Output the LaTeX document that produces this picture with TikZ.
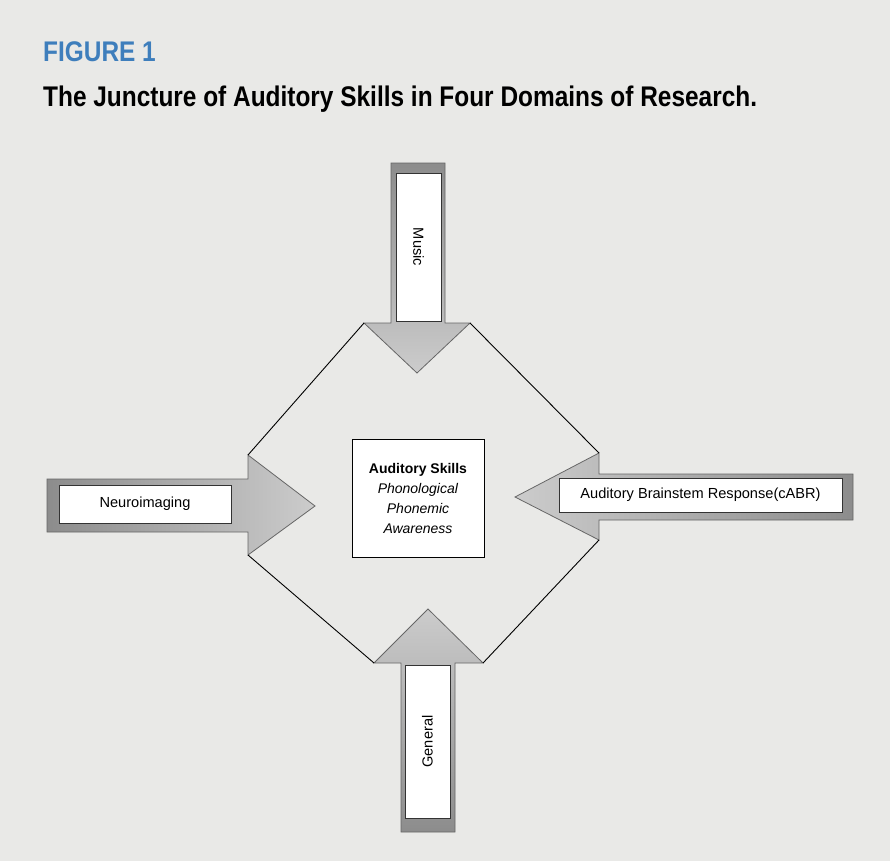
\documentclass[tikz,border=0pt]{standalone}
\usepackage{fontspec}
\setmainfont{Liberation Sans}
\newfontfamily\headfont[FakeStretch=0.86]{Liberation Sans}
\definecolor{figblue}{RGB}{62,126,188}
\definecolor{paper}{RGB}{233,233,231}

\begin{document}
\begin{tikzpicture}[x=1pt, y=-1pt,
    domarrow/.style={draw=black!60, line width=0.8pt},
    tag/.style={draw=black!80, fill=white, line width=0.8pt, inner sep=0pt, font=\fontsize{14.6}{17}\selectfont},
    side/.style={draw=black, line width=0.9pt}]

  \fill[paper] (0,0) rectangle (890,861);
  \useasboundingbox (0,0) rectangle (890,861);

  \node[anchor=base west, inner sep=0pt, text=figblue, font=\headfont\bfseries\fontsize{28.4}{30}\selectfont] (fig) at (43,62) {FIGURE 1};
  \node[anchor=base west, inner sep=0pt, font=\headfont\bfseries\fontsize{28.4}{30}\selectfont] (caption) at (43,107) {The Juncture of Auditory Skills in Four Domains of Research.};

  \coordinate (musicL) at (364,323);
  \coordinate (musicR) at (470,323);
  \coordinate (musicT) at (417,373);
  \coordinate (neuroT) at (248,455);
  \coordinate (neuroB) at (248,555);
  \coordinate (neuroP) at (315,506);
  \coordinate (abrT) at (599,453);
  \coordinate (abrB) at (599,540);
  \coordinate (abrP) at (515,497);
  \coordinate (genL) at (374,663);
  \coordinate (genR) at (483,663);
  \coordinate (genP) at (428,609);

  \path[domarrow, top color=black!45, bottom color=black!20] (391,163) -- (445,163) -- (445,323) -- (musicR) -- (musicT) -- (musicL) -- (391,323) -- cycle;
  \path[domarrow, left color=black!45, right color=black!20] (47,479) -- (248,479) -- (neuroT) -- (neuroP) -- (neuroB) -- (248,532) -- (47,532) -- cycle;
  \path[domarrow, right color=black!45, left color=black!20] (853,474) -- (599,474) -- (abrT) -- (abrP) -- (abrB) -- (599,520) -- (853,520) -- cycle;
  \path[domarrow, bottom color=black!45, top color=black!20] (401,832) -- (401,663) -- (genL) -- (genP) -- (genR) -- (455,663) -- (455,832) -- cycle;

  \draw[side] (musicL) -- (neuroT);
  \draw[side] (neuroB) -- (genL);
  \draw[side] (genR) -- (abrB);
  \draw[side] (abrT) -- (musicR);

  \node[tag, minimum width=148pt, minimum height=45pt, rotate=-90] (music) at (418.5,247) {Music};
  \node[tag, minimum width=172pt, minimum height=38pt] (neuro) at (145,504) {Neuroimaging};
  \node[tag, minimum width=283pt, minimum height=34pt] (abr) at (700.5,495) {Auditory Brainstem Response(cABR)};
  \node[tag, minimum width=153pt, minimum height=45pt, rotate=90] (general) at (427.5,741.5) {General};

  \node[draw=black, fill=white, line width=0.8pt, minimum width=132pt, minimum height=118pt, align=center, font=\fontsize{14}{20}\selectfont] (skills) at (418,498) {\textbf{Auditory Skills}\\\textit{Phonological}\\\textit{Phonemic}\\\textit{Awareness}};
\end{tikzpicture}
\end{document}
